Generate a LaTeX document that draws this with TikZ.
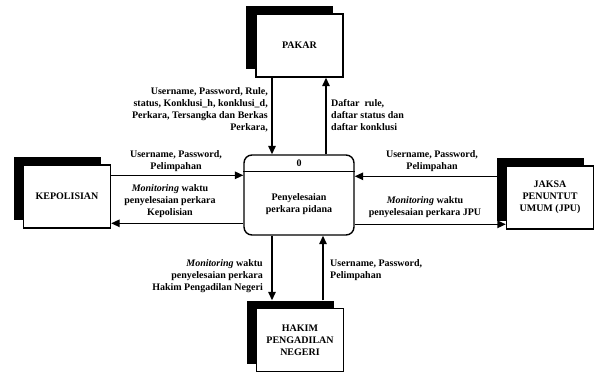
\documentclass[tikz,border=0pt]{standalone}
\usepackage{fontspec}
\setmainfont{Liberation Serif}
\usetikzlibrary{arrows.meta,calc}
\begin{document}
\begin{tikzpicture}[x=1pt,y=-1pt,
  every node/.style={font=\fontsize{10}{12}\selectfont\bfseries},
  entity/.style={draw,line width=1.4pt,fill=white,minimum width=87pt,minimum height=63pt,inner sep=0pt,align=center},
  shade/.style={fill=black,minimum width=87pt,minimum height=63pt,inner sep=0pt},
  proc/.style={draw,line width=1.4pt,rounded corners=8pt,minimum width=110pt,minimum height=80pt,inner sep=0pt},
  flow/.style={line width=1.4pt,-{Triangle[length=8.5pt,width=7.5pt]}},
  lbl/.style={inner sep=0pt}]
\useasboundingbox (0,0) rectangle (594,374);

% external entities: black offset block behind a white box
\node[shade] (pakarS) at (289.5,37.5) {};
\node[entity] (pakar) at (299.5,45.5) {PAKAR};
\node[shade] (kepS) at (57,188.5) {};
\node[entity] (kep) at (67,196.5) {KEPOLISIAN};
\node[shade] (jpuS) at (540,189.5) {};
\node[entity] (jpu) at (550,197.5) {JAKSA\\PENUNTUT\\UMUM (JPU)};
\node[shade] (hakimS) at (290,332) {};
\node[entity] (hakim) at (300,340) {HAKIM\\PENGADILAN\\NEGERI};

% process
\node[proc] (proc) at (299,195) {};
\coordinate (divL) at ([yshift=-17pt]proc.north west);
\coordinate (divR) at ([yshift=-17pt]proc.north east);
\draw[line width=1.4pt] (divL) -- (divR);
\node[lbl] (pnum) at ($(proc.north)!0.5!(proc.north |- divL)$) {0};
\node[lbl,align=center] (pname) at (299,204) {Penyelesaian\\perkara pidana};

% data flows
\draw[flow] ([xshift=-27.5pt]pakar.south) -- ([xshift=-27.5pt]pakar.south |- proc.north);
\draw[flow] ([xshift=26.5pt]pakar.south |- proc.north) -- ([xshift=26.5pt]pakar.south);
\draw[flow] ([yshift=-11pt]kep.north east) -- ([yshift=-11pt]kep.north east -| proc.west);
\draw[flow] ([yshift=-59pt]kep.north east -| proc.west) -- ([yshift=-59pt]kep.north east);
\draw[flow] ([yshift=-11pt]jpu.north west) -- ([yshift=-11pt]jpu.north west -| proc.east);
\draw[flow] ([yshift=-59pt]jpu.north west -| proc.east) -- ([yshift=-59pt]jpu.north west);
\draw[flow] ([xshift=-18pt]hakimS.north |- proc.south) -- ([xshift=-18pt]hakimS.north);
\draw[flow] ([xshift=33pt]hakimS.north) -- ([xshift=33pt]hakimS.north |- proc.south);

% flow labels
\node[lbl,anchor=north east,align=right] (l1) at (268,87)
  {Username, Password, Rule,\\status, Konklusi\_h, konklusi\_d,\\Perkara, Tersangka dan Berkas\\Perkara,};
\node[lbl,anchor=north west,align=left] (l2) at (331,99)
  {Daftar\ \ rule,\\daftar status dan\\daftar konklusi};
\node[lbl,anchor=north,align=center] (l3) at (176,150)
  {Username, Password,\\Pelimpahan};
\node[lbl,anchor=north,align=center] (l4) at (170,184)
  {\textit{Monitoring} waktu\\penyelesaian perkara\\Kepolisian};
\node[lbl,anchor=north,align=center] (l5) at (432,150)
  {Username, Password,\\Pelimpahan};
\node[lbl,anchor=north,align=center] (l6) at (425,196)
  {\textit{Monitoring} waktu\\penyelesaian perkara JPU};
\node[lbl,anchor=north east,align=right] (l7) at (263,259)
  {\textit{Monitoring} waktu\\penyelesaian perkara\\Hakim Pengadilan Negeri};
\node[lbl,anchor=north west,align=left] (l8) at (330,259)
  {Username, Password,\\Pelimpahan};
\end{tikzpicture}
\end{document}
